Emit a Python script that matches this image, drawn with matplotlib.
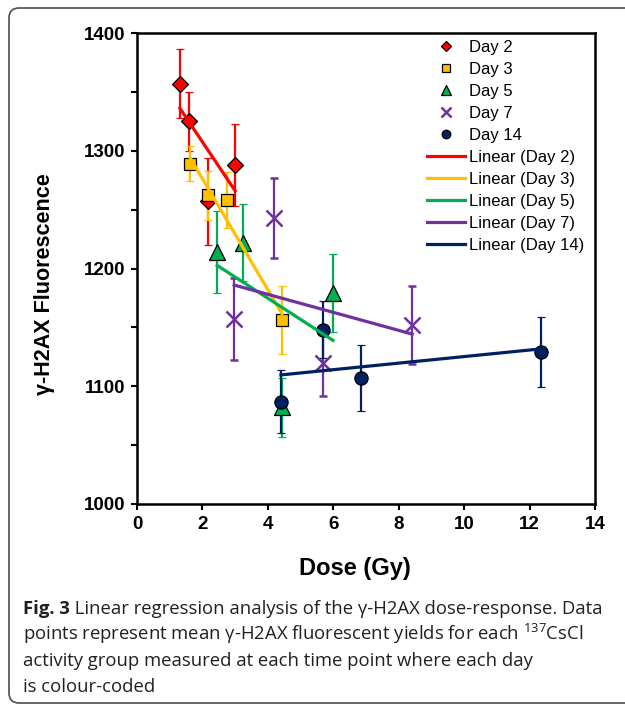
import numpy as np
import matplotlib
matplotlib.use("Agg")
import matplotlib.pyplot as plt
from matplotlib.lines import Line2D
from matplotlib.patches import FancyBboxPatch
from matplotlib.transforms import IdentityTransform
from matplotlib.ticker import MultipleLocator

# Werte
day2_x = [1.31, 1.59, 2.17, 3.00]
day2_y = [1357, 1325, 1257, 1288]
day2_err = [29, 25, 37, 35]

day3_x = [1.62, 2.17, 2.75, 4.43]
day3_y = [1289, 1262, 1258, 1156]
day3_err = [15, 21, 24, 29]

day5_x = [2.45, 3.24, 4.43, 5.99]
day5_y = [1214, 1222, 1082, 1179]
day5_err = [35, 33, 25, 33]

day7_x = [2.97, 4.19, 5.69, 8.41]
day7_y = [1157, 1243, 1120, 1152]
day7_err = [35, 34, 28, 33]

day14_x = [4.40, 5.69, 6.85, 12.35]
day14_y = [1087, 1148, 1107, 1129]
day14_err = [27, 24, 28, 30]

tage = ["Day 2", "Day 3", "Day 5", "Day 7", "Day 14"]
farben = ["#FF0000", "#FFC000", "#00B050", "#7030A0", "#002060"]
marker = ["D", "s", "^", "x", "o"]
msize = [8.2, 9, 11.5, 11, 9.5]

reihen = [(day2_x, day2_y, day2_err), (day3_x, day3_y, day3_err),
          (day5_x, day5_y, day5_err), (day7_x, day7_y, day7_err),
          (day14_x, day14_y, day14_err)]

W, H = 625, 704
fig = plt.figure(figsize=(W / 100, H / 100), dpi=100)
ax = fig.add_axes([137 / W, 1 - 504 / H, (595 - 137) / W, (504 - 33) / H])

punkt_handles = []
linien_handles = []
for (x, y, err), tag, farbe, m, ms in zip(reihen, tage, farben, marker, msize):
    if m == "x":
        ax.errorbar(x, y, yerr=err, fmt=m, color=farbe, ms=ms, mew=1.8,
                    elinewidth=1.6, capsize=2.8, capthick=1.6, zorder=3)
        h = Line2D([], [], ls="none", marker=m, color=farbe, ms=ms, mew=1.8)
    else:
        ax.errorbar(x, y, yerr=err, fmt=m, mfc=farbe, mec="black", mew=0.9,
                    ms=ms, ecolor=farbe, elinewidth=1.6, capsize=2.8,
                    capthick=1.6, zorder=3)
        h = Line2D([], [], ls="none", marker=m, mfc=farbe, mec="black",
                   mew=0.9, ms=ms)
    punkt_handles.append(h)

for (x, y, err), tag, farbe in zip(reihen, tage, farben):
    steigung, achse = np.polyfit(x, y, 1)
    xs = np.array([min(x), max(x)])
    l, = ax.plot(xs, steigung * xs + achse, color=farbe, lw=2.3,
                 label="Linear (" + tag + ")", zorder=4)
    linien_handles.append(l)

ax.set_xlim(0, 14)
ax.set_ylim(1000, 1400)
ax.xaxis.set_major_locator(MultipleLocator(2))
ax.yaxis.set_major_locator(MultipleLocator(100))
ax.yaxis.set_minor_locator(MultipleLocator(50))
ax.tick_params(which="both", direction="out", length=4.5, width=1.5,
               labelsize=13.5, pad=4)
for lab in ax.get_xticklabels() + ax.get_yticklabels():
    lab.set_fontweight("bold")
    lab.set_family("Liberation Sans")
for sp in ax.spines.values():
    sp.set_linewidth(1.8)

ax.set_xlabel("Dose (Gy)", fontsize=17, fontweight="bold", family="Liberation Sans")
ax.set_ylabel("γ-H2AX Fluorescence", fontsize=15.5, fontweight="bold", family="Liberation Sans")
ax.xaxis.set_label_coords((355 - 137) / 458, -(557 - 504) / 471)
ax.yaxis.set_label_coords(-(137 - 55) / 458, (504 - 284) / 471)

ax.legend(punkt_handles + linien_handles, tage + [l.get_label() for l in linien_handles],
          loc="upper left", bbox_to_anchor=((427 - 137) / 458, (504 - 40) / 471),
          frameon=False, borderpad=0, borderaxespad=0, markerscale=0.65,
          handlelength=2.3, handletextpad=0.2, labelspacing=0.42,
          prop={"family": "Liberation Sans", "size": 12})

# Bildunterschrift
cfarbe = "#231F20"
zeilen = ["points represent mean γ-H2AX fluorescent yields for each $^{\\mathregular{137}}$CsCl",
          "activity group measured at each time point where each day",
          "is colour-coded"]
x0 = 23 / W
t = fig.text(x0, 1 - 614 / H, "Fig. 3", fontsize=13.3, fontweight="bold",
             family="Open Sans", color=cfarbe, va="baseline")
r = fig.canvas.get_renderer()
bb = t.get_window_extent(r)
fig.text(bb.x1 / W, 1 - 614 / H, " Linear regression analysis of the γ-H2AX dose-response. Data",
         fontsize=13.3, family="Open Sans", color=cfarbe, va="baseline")
for i, z in enumerate(zeilen):
    fig.text(x0, 1 - (640 + 26 * i) / H, z, fontsize=13.3, family="Open Sans",
             color=cfarbe, va="baseline")

# Rahmen um die Abbildung
rahmen = FancyBboxPatch((9, 1), 700, 695, boxstyle="round,pad=0,rounding_size=10",
                        transform=IdentityTransform(), fill=False,
                        ec="#4d4d4d", lw=1.2, clip_on=False)
fig.patches.append(rahmen)

fig.savefig("out.png", dpi=100)
